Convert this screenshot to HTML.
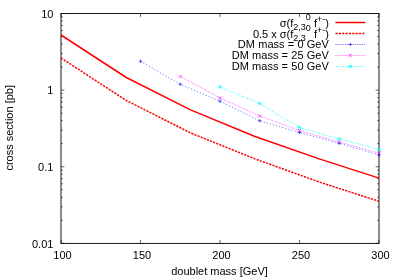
<!DOCTYPE html>
<html><head><meta charset="utf-8"><title>plot</title>
<style>
html,body{margin:0;padding:0;background:#fff;}
svg{display:block;}
text{filter:grayscale(1);}
text{font-family:"Liberation Sans",sans-serif;font-size:11px;fill:#000;}
</style></head><body>
<svg width="399" height="279" viewBox="0 0 399 279">
<rect width="399" height="279" fill="#fff"/>

<path d="M61.0,13.50h3.4 M379.0,13.50h-3.4 M61.0,67.06h1.8 M379.0,67.06h-1.8 M61.0,53.57h1.8 M379.0,53.57h-1.8 M61.0,44.00h1.8 M379.0,44.00h-1.8 M61.0,36.57h1.8 M379.0,36.57h-1.8 M61.0,30.50h1.8 M379.0,30.50h-1.8 M61.0,25.37h1.8 M379.0,25.37h-1.8 M61.0,20.93h1.8 M379.0,20.93h-1.8 M61.0,17.01h1.8 M379.0,17.01h-1.8 M61.0,90.13h3.4 M379.0,90.13h-3.4 M61.0,143.70h1.8 M379.0,143.70h-1.8 M61.0,130.20h1.8 M379.0,130.20h-1.8 M61.0,120.63h1.8 M379.0,120.63h-1.8 M61.0,113.20h1.8 M379.0,113.20h-1.8 M61.0,107.13h1.8 M379.0,107.13h-1.8 M61.0,102.00h1.8 M379.0,102.00h-1.8 M61.0,97.56h1.8 M379.0,97.56h-1.8 M61.0,93.64h1.8 M379.0,93.64h-1.8 M61.0,166.77h3.4 M379.0,166.77h-3.4 M61.0,220.33h1.8 M379.0,220.33h-1.8 M61.0,206.84h1.8 M379.0,206.84h-1.8 M61.0,197.26h1.8 M379.0,197.26h-1.8 M61.0,189.84h1.8 M379.0,189.84h-1.8 M61.0,183.77h1.8 M379.0,183.77h-1.8 M61.0,178.64h1.8 M379.0,178.64h-1.8 M61.0,174.19h1.8 M379.0,174.19h-1.8 M61.0,170.27h1.8 M379.0,170.27h-1.8 M61.0,243.40h3.4 M379.0,243.40h-3.4 M61.00,243.4v-3.4 M61.00,13.5v3.4 M140.50,243.4v-3.4 M140.50,13.5v3.4 M220.00,243.4v-3.4 M220.00,13.5v3.4 M299.50,243.4v-3.4 M299.50,13.5v3.4 M379.00,243.4v-3.4 M379.00,13.5v3.4" stroke="#000" stroke-width="0.6" fill="none"/>
<rect x="61.0" y="13.5" width="318.0" height="229.90" fill="none" stroke="#000" stroke-width="0.9"/>
<text x="53.4" y="17.70" text-anchor="end">10</text>
<text x="53.4" y="94.33" text-anchor="end">1</text>
<text x="53.4" y="170.97" text-anchor="end">0.1</text>
<text x="53.4" y="247.60" text-anchor="end">0.01</text>
<text x="62.50" y="258.7" text-anchor="middle">100</text>
<text x="142.00" y="258.7" text-anchor="middle">150</text>
<text x="221.50" y="258.7" text-anchor="middle">200</text>
<text x="301.00" y="258.7" text-anchor="middle">250</text>
<text x="380.50" y="258.7" text-anchor="middle">300</text>
<text x="219.5" y="274.9" text-anchor="middle">doublet mass [GeV]</text>
<text transform="translate(12.6,127.8) rotate(-90)" text-anchor="middle">cross section [pb]</text>
<path d="M61.00,35.00 L126.30,77.50 L190.50,109.90 L255.00,136.45 L320.00,159.10 L379.00,178.10" stroke="#ff0000" stroke-width="1.5" fill="none" stroke-linejoin="round"/>
<path d="M61.00,58.00 L126.30,100.50 L190.50,132.90 L255.00,158.90 L320.00,182.30 L379.00,201.30" stroke="#ff0000" stroke-width="1.5" fill="none" stroke-dasharray="2.2,1.15"/>
<path d="M140.50,61.25 L180.25,84.25 L220.00,101.25 L259.75,120.80 L299.50,132.50 L339.25,143.30 L379.00,155.00" stroke="#0000ff" stroke-width="0.5" fill="none" stroke-dasharray="1.3,1.9"/>
<path d="M138.80,61.25h3.4 M140.50,59.55v3.4 M178.55,84.25h3.4 M180.25,82.55v3.4 M218.30,101.25h3.4 M220.00,99.55v3.4 M258.05,120.80h3.4 M259.75,119.10v3.4 M297.80,132.50h3.4 M299.50,130.80v3.4 M337.55,143.30h3.4 M339.25,141.60v3.4 M377.30,155.00h3.4 M379.00,153.30v3.4" stroke="#0000ff" stroke-width="0.6" fill="none"/>
<path d="M180.25,76.50 L220.00,98.00 L259.75,116.00 L299.50,130.50 L339.25,141.90 L379.00,153.20" stroke="#ff00ff" stroke-width="0.55" fill="none" stroke-dasharray="0.8,0.7"/>
<path d="M178.55,74.80l3.4,3.4 M178.55,78.20l3.4,-3.4 M218.30,96.30l3.4,3.4 M218.30,99.70l3.4,-3.4 M258.05,114.30l3.4,3.4 M258.05,117.70l3.4,-3.4 M297.80,128.80l3.4,3.4 M297.80,132.20l3.4,-3.4 M337.55,140.20l3.4,3.4 M337.55,143.60l3.4,-3.4 M377.30,151.50l3.4,3.4 M377.30,154.90l3.4,-3.4" stroke="#ff00ff" stroke-width="0.6" fill="none"/>
<path d="M220.00,87.00 L259.75,103.50 L299.50,127.50 L339.25,139.00 L379.00,149.50" stroke="#00ffff" stroke-width="0.55" fill="none" stroke-dasharray="3,0.9,0.9,0.9"/>
<path d="M218.30,87.00h3.4 M220.00,85.30v3.4 M218.30,85.30l3.4,3.4 M218.30,88.70l3.4,-3.4 M258.05,103.50h3.4 M259.75,101.80v3.4 M258.05,101.80l3.4,3.4 M258.05,105.20l3.4,-3.4 M297.80,127.50h3.4 M299.50,125.80v3.4 M297.80,125.80l3.4,3.4 M297.80,129.20l3.4,-3.4 M337.55,139.00h3.4 M339.25,137.30v3.4 M337.55,137.30l3.4,3.4 M337.55,140.70l3.4,-3.4 M377.30,149.50h3.4 M379.00,147.80v3.4 M377.30,147.80l3.4,3.4 M377.30,151.20l3.4,-3.4" stroke="#00ffff" stroke-width="0.6" fill="none"/>
<path d="M335.4,22.5H365.3" stroke="#ff0000" stroke-width="1.5"/>
<path d="M335.4,33.5H365.3" stroke="#ff0000" stroke-width="1.5" stroke-dasharray="2.2,1.15"/>
<path d="M335.4,44.5H365.3" stroke="#0000ff" stroke-width="0.55" stroke-dasharray="1.3,1.1"/>
<path d="M348.65,44.50h3.4 M350.35,42.80v3.4" stroke="#0000ff" stroke-width="0.6" fill="none"/>
<path d="M335.4,55.5H365.3" stroke="#ff00ff" stroke-width="0.55" stroke-dasharray="0.8,0.7"/>
<path d="M348.65,53.80l3.4,3.4 M348.65,57.20l3.4,-3.4" stroke="#ff00ff" stroke-width="0.6" fill="none"/>
<path d="M335.4,66.5H365.3" stroke="#00ffff" stroke-width="0.55" stroke-dasharray="3,0.9,0.9,0.9"/>
<path d="M348.65,66.50h3.4 M350.35,64.80v3.4 M348.65,64.80l3.4,3.4 M348.65,68.20l3.4,-3.4" stroke="#00ffff" stroke-width="0.6" fill="none"/>
<text x="328.9" y="26.7" text-anchor="end">σ(f<tspan font-size="9.0" dy="3">2,3</tspan><tspan font-size="9.0" dy="-9.5">0</tspan><tspan dy="6.5"> f</tspan><tspan font-size="9.0" dy="-4.6">+-</tspan><tspan dy="4.6">)</tspan></text>
<text x="328.9" y="37.7" text-anchor="end">0.5 x σ(f<tspan font-size="9.0" dy="3">2,3</tspan><tspan font-size="9.0" dy="-9.5">0</tspan><tspan dy="6.5"> f</tspan><tspan font-size="9.0" dy="-4.6">+-</tspan><tspan dy="4.6">)</tspan></text>
<text x="328.9" y="48.4" text-anchor="end" letter-spacing="0.06">DM mass = 0 GeV</text>
<text x="328.9" y="59.4" text-anchor="end" letter-spacing="0.06">DM mass = 25 GeV</text>
<text x="328.9" y="70.4" text-anchor="end" letter-spacing="0.06">DM mass = 50 GeV</text>
</svg></body></html>
